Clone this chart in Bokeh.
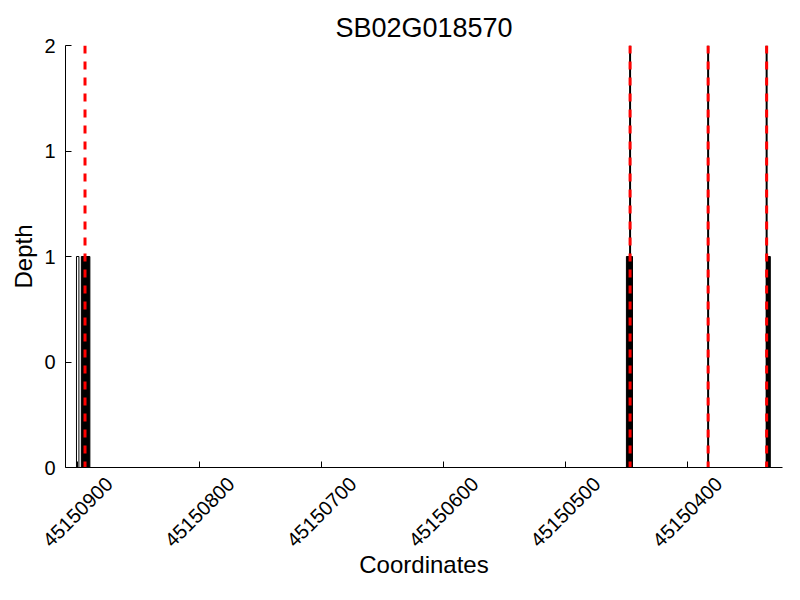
import math
from bokeh.plotting import figure
from bokeh.models import Range1d, FixedTicker, LinearAxis
from bokeh.embed import file_html
from bokeh.resources import INLINE

# ---- data ----
title = "SB02G018570"
bar_start = [45150901, 45150897, 45150450, 45150335]
bar_end = [45150899, 45150890, 45150445, 45150332]
bar_depth = [1, 1, 1, 1]
bar_filled = [False, True, True, True]
site_lines = [45150447, 45150383, 45150335]               # black lines
marker_lines = [45150894, 45150447, 45150383, 45150335]   # red dashed lines
x_ticks = [45150900, 45150800, 45150700, 45150600, 45150500, 45150400]
x_tick_labels = [str(t) for t in x_ticks]
y_ticks = [0, 0.5, 1, 1.5, 2]
y_tick_labels = ["0", "0", "1", "1", "2"]
x_lo, x_hi = 45150322, 45150910
y_lo, y_hi = 0, 2

# ---- layout constants (pixels) ----
FONT = "Liberation Sans"
W, H = 796, 596
LEFT, RIGHT, TOP, BOTTOM = 65, 782, 45, 467
ppu_x = (RIGHT - LEFT) / (x_hi - x_lo)
LABEL_HALF_PX = 31.4   # half length of a rotated tick label, projected on x

p = figure(width=W, height=H, output_backend="svg", toolbar_location=None,
           x_range=Range1d(x_hi, x_lo), y_range=Range1d(y_lo, y_hi),
           min_border_left=LEFT, min_border_right=W - RIGHT, min_border_top=TOP,
           min_border_bottom=H - BOTTOM)
p.outline_line_color = None
p.xgrid.visible = False
p.ygrid.visible = False

p.title.text = title
p.title.align = "center"
p.title.text_font = FONT
p.title.text_font_size = "27px"
p.title.text_font_style = "normal"
p.title.text_color = "black"
p.title.standoff = 6

filled_l = [s for s, f in zip(bar_start, bar_filled) if f]
filled_r = [e for e, f in zip(bar_end, bar_filled) if f]
filled_d = [d for d, f in zip(bar_depth, bar_filled) if f]
open_l = [s for s, f in zip(bar_start, bar_filled) if not f]
open_r = [e for e, f in zip(bar_end, bar_filled) if not f]
open_d = [d for d, f in zip(bar_depth, bar_filled) if not f]
p.quad(left=open_l, right=open_r, bottom=y_lo, top=open_d,
       fill_color="white", line_color="black", line_width=1)
p.quad(left=filled_l, right=filled_r, bottom=y_lo, top=filled_d,
       fill_color="black", line_color="black", line_width=1)

p.segment(x0=site_lines, x1=site_lines, y0=[y_hi] * len(site_lines), y1=[y_lo] * len(site_lines),
          line_color="black", line_width=2)
p.segment(x0=marker_lines, x1=marker_lines, y0=[y_hi] * len(marker_lines), y1=[y_lo] * len(marker_lines),
          line_color="red", line_width=3, line_dash="8 8")

# ---- y axis ----
ya = p.yaxis[0]
ya.ticker = FixedTicker(ticks=y_ticks)
ya.major_label_overrides = {t: l for t, l in zip(y_ticks, y_tick_labels)}
ya.axis_line_color = "black"
ya.major_tick_in = 6
ya.major_tick_out = 0
ya.minor_tick_in = 0
ya.minor_tick_out = 0
ya.major_tick_line_color = "black"
ya.major_label_text_font = FONT
ya.major_label_text_font_size = "20px"
ya.major_label_text_color = "black"
ya.major_label_standoff = 10
ya.axis_label = "Depth"
ya.axis_label_text_font = FONT
ya.axis_label_text_font_size = "24px"
ya.axis_label_text_font_style = "normal"
ya.axis_label_text_color = "black"
ya.axis_label_standoff = 4

# ---- x axis: line and inward ticks ----
xa = p.xaxis[0]
xa.ticker = FixedTicker(ticks=x_ticks)
xa.axis_line_color = "black"
xa.major_tick_line_color = "black"
xa.major_tick_in = 6
xa.major_tick_out = 0
xa.minor_tick_in = 0
xa.minor_tick_out = 0
xa.major_label_overrides = {t: "" for t in x_ticks}
xa.major_label_text_font_size = "0px"
xa.major_label_standoff = 0

# ---- x axis: rotated labels, each centred under its tick ----
label_pos = [t - LABEL_HALF_PX / ppu_x for t in x_ticks]
lab_axis = LinearAxis(ticker=FixedTicker(ticks=label_pos),
                      major_label_overrides={lp: s for lp, s in zip(label_pos, x_tick_labels)},
                      major_label_orientation=math.pi / 4,
                      axis_line_color=None, major_tick_line_color=None, minor_tick_line_color=None,
                      major_tick_in=0, major_tick_out=0, minor_tick_in=0, minor_tick_out=0,
                      major_label_standoff=13,
                      major_label_text_font=FONT, major_label_text_font_size="20px",
                      major_label_text_color="black",
                      axis_label="Coordinates", axis_label_text_font=FONT,
                      axis_label_text_font_size="24px", axis_label_text_font_style="normal",
                      axis_label_text_color="black", axis_label_standoff=-5)
p.add_layout(lab_axis, "below")

open("out.html", "w").write(file_html(p, INLINE))
